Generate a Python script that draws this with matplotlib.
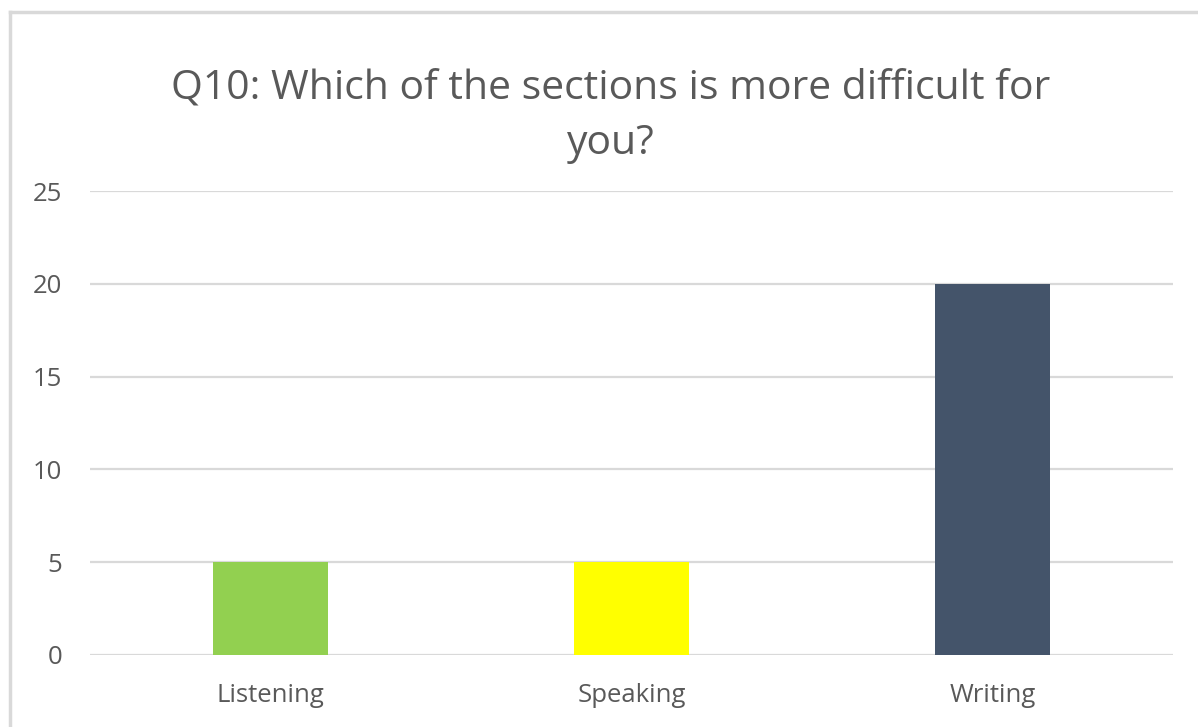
import matplotlib
matplotlib.use("Agg")
import matplotlib.pyplot as plt
from matplotlib.lines import Line2D

secoes = ["Listening", "Speaking", "Writing"]
respostas = [5, 5, 20]
cores = ["#92D050", "#FFFF00", "#44546A"]
ticks_y = [0, 5, 10, 15, 20, 25]

plt.rcParams["font.family"] = ["Open Sans", "DejaVu Sans"]

fig = plt.figure(figsize=(11.98, 7.27), dpi=100)
ax = fig.add_axes([90 / 1198, 1 - 655 / 727, (1173 - 90) / 1198, (655 - 191) / 727])

ax.bar(range(len(secoes)), respostas, width=0.316, color=cores, zorder=3)
ax.set_xlim(-0.5, len(secoes) - 0.5)
ax.set_ylim(0, 25)
ax.set_yticks(ticks_y)
ax.set_xticks(range(len(secoes)))
ax.set_xticklabels(secoes)

ax.grid(axis="y", color="#d9d9d9", linewidth=1.6, zorder=0)
for s in ax.spines.values():
    s.set_visible(False)
ax.tick_params(length=0, labelsize=18.5, labelcolor="#595959")
ax.tick_params(axis="y", pad=20)
ax.tick_params(axis="x", pad=20)

fig.text(611 / 1198, 1 - 116 / 727, "Q10: Which of the sections is more difficult for\nyou?",
         ha="center", va="center", fontsize=29.4, color="#595959", linespacing=1.5)

# moldura (só esquerda e topo, como no print)
fig.add_artist(Line2D([10 / 1198, 10 / 1198], [0, 1 - 12 / 727], transform=fig.transFigure,
                      color="#d9d9d9", linewidth=2.5))
fig.add_artist(Line2D([10 / 1198, 1], [1 - 12 / 727, 1 - 12 / 727], transform=fig.transFigure,
                      color="#d9d9d9", linewidth=2.5))

fig.savefig("out.png", dpi=100)
